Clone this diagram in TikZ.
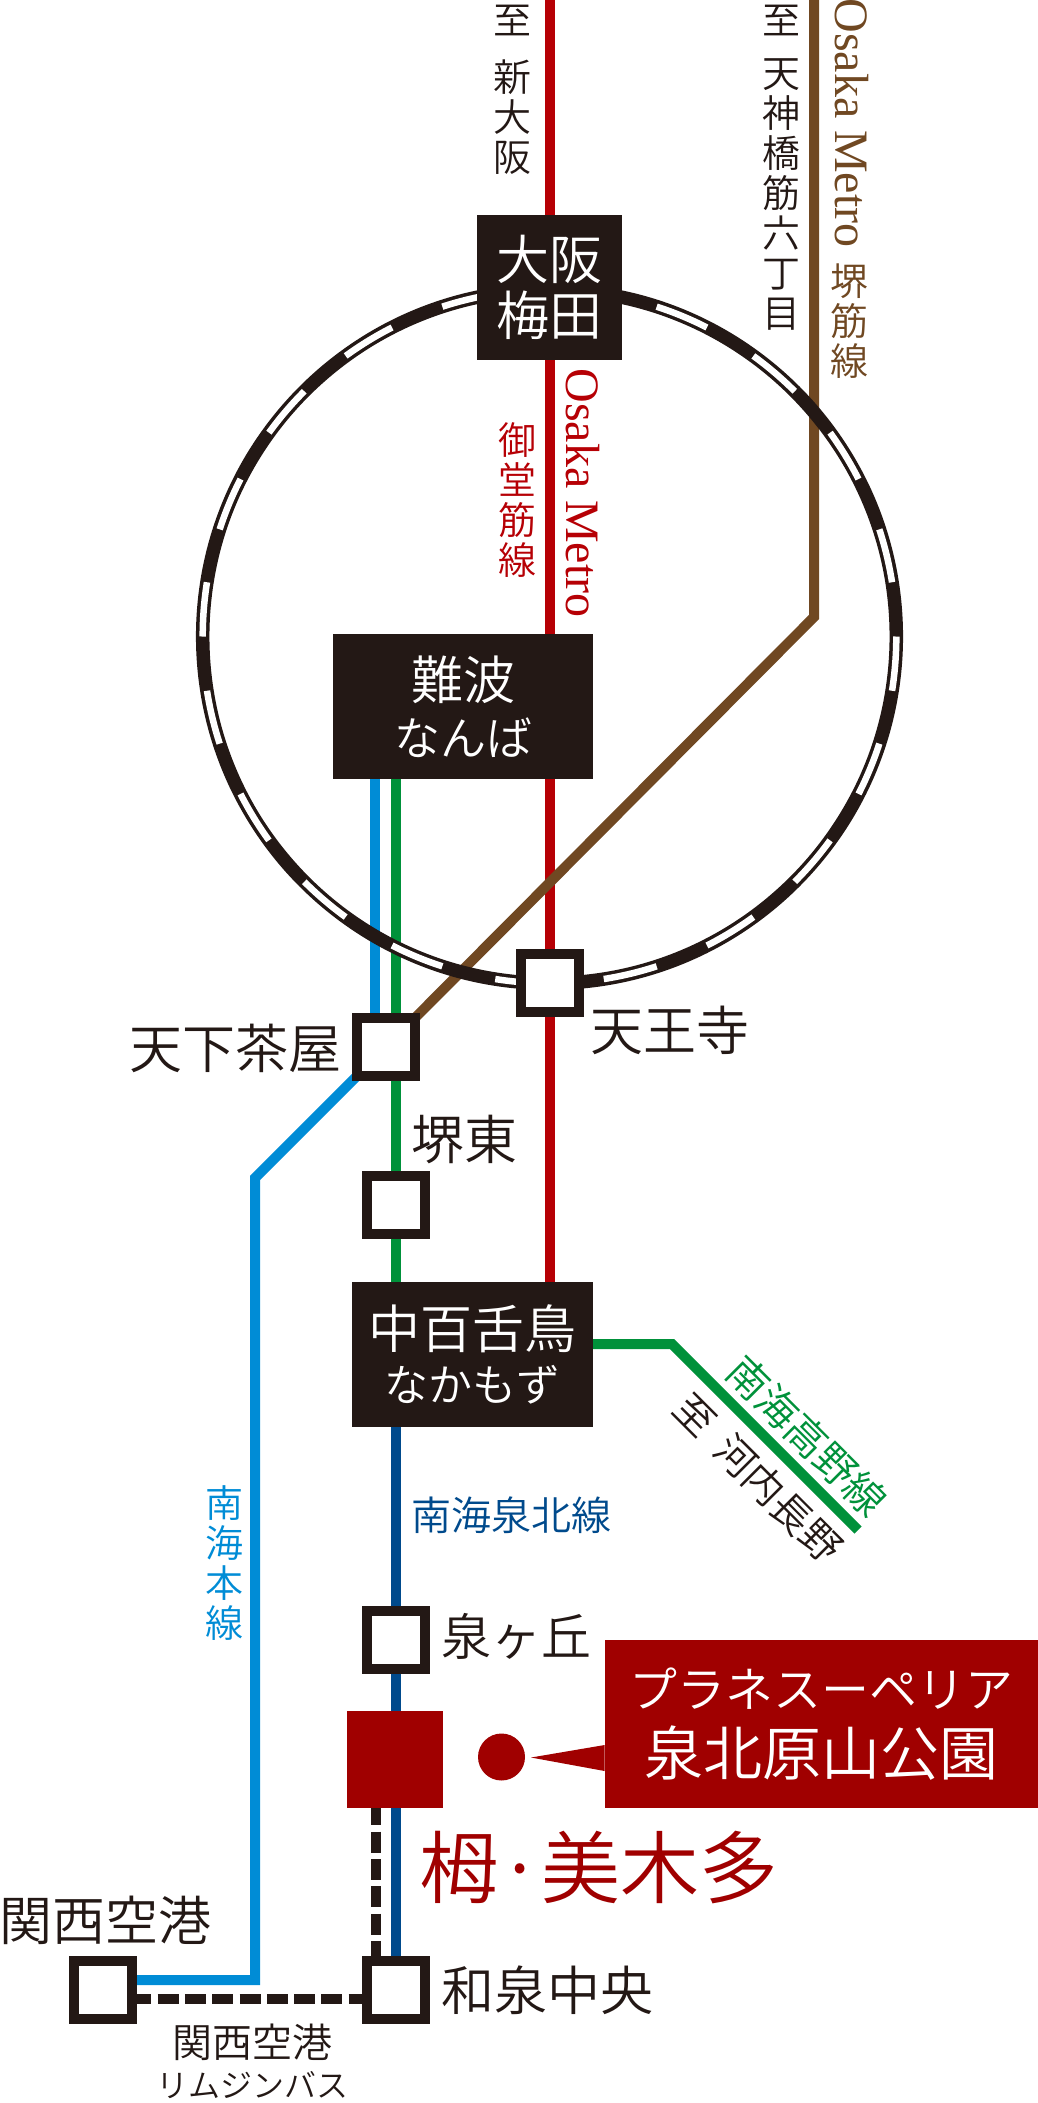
\documentclass[tikz,border=0pt]{standalone}
\usepackage{fontspec}
\setmainfont{Noto Sans CJK JP}[UprightFont=* DemiLight]
\newfontfamily\latinfont{Liberation Serif}
\definecolor{inkblack}{HTML}{231815}
\definecolor{metrored}{HTML}{B60005}
\definecolor{metrobrown}{HTML}{704822}
\definecolor{nankaiblue}{HTML}{008CD6}
\definecolor{nankaigreen}{HTML}{00913A}
\definecolor{senbokunavy}{HTML}{004A8C}
\definecolor{togared}{HTML}{A00000}
\newcommand{\fsz}[1]{\fontsize{#1}{#1}\selectfont}
\pgfdeclarelayer{lines}
\pgfdeclarelayer{rail}
\pgfsetlayers{lines,rail,main}
\tikzset{
    routeline/.style={line width=5pt},
    busline/.style={line width=5pt, color=inkblack, dash pattern=on 10.5pt off 3.15pt},
    hubbox/.style={fill=inkblack, text=white, inner sep=0pt, align=center, minimum width=#1},
    stationsq/.style={draw=inkblack, fill=white, line width=5pt, minimum size=29pt, inner sep=0pt},
    stationlabel/.style={text=inkblack, inner sep=0pt, font=\fsz{26.5}},
    tatelabel/.style={inner sep=0pt, align=center, font=\fontsize{19}{20}\selectfont},
}
\begin{document}
\begin{tikzpicture}[x=0.5pt,y=-0.5pt]
    \useasboundingbox (0,0) rectangle (1038,2103);

    \def \ringradius {173.4pt}
    \def \n {19}

    \coordinate (ringc) at (549.5,636.5);

    % hubs
    \node[hubbox=72.5pt, minimum height=72.5pt] (umeda) at (549.5,287.5) {\fsz{26.5}大阪\\[3pt]\fsz{26.5}梅田};
    \node[hubbox=130pt, minimum height=72.5pt] (namba) at (463,706.5) {\fsz{26}難波\\[6pt]\fsz{23}なんば};
    \node[hubbox=120.5pt, minimum height=72.5pt] (nakamozu) at (472.5,1354.5) {\fsz{26}中百舌鳥\\[5pt]\fsz{22}なかもず};

    % stations
    \node[stationsq] (tengachaya) at (386,1047) {};
    \node[stationsq] (tennoji) at (549.5,983) {};
    \node[stationsq] (sakaihigashi) at (395.5,1205) {};
    \node[stationsq] (izumigaoka) at (395.5,1640) {};
    \node[stationsq] (izumichuo) at (395.5,1990) {};
    \node[stationsq] (kansai) at (103,1990) {};
    \node[fill=togared, minimum width=48pt, minimum height=48.5pt, inner sep=0pt] (toga) at (395,1759.5) {};
    \node[circle, fill=togared, minimum size=23.5pt, inner sep=0pt] (togadot) at (501.5,1757) {};
    \node[fill=togared, text=white, minimum width=216.5pt, minimum height=84pt, inner sep=0pt, align=center] (planesuperior) at (821.5,1724) {\fsz{24}プラネスーペリア\\[7pt]\fsz{29.5}泉北原山公園};

    \coordinate (redtop) at (549.5,0);
    \coordinate (browntop) at (814,0);
    \coordinate (brownbend) at (814,617);
    \coordinate (bluetop) at (375,700);
    \coordinate (bluebend) at (255,1178);
    \coordinate (bluecorner) at (255,1980);
    \coordinate (kouyabend) at (672,1344);
    \coordinate (kouyaend) at (858,1530);
    \coordinate (busleft) at (130.3,1999);
    \coordinate (busright) at (395.5,1999);
    \coordinate (bustop) at (376,1804.4);
    \coordinate (busbottom) at (376,1990);
    \coordinate (pointertip) at (531,1757.5);

    \begin{pgfonlayer}{lines}
        \draw[routeline, metrored] (redtop) -- (umeda.center) -- (tennoji.center) -- (tennoji |- nakamozu);
        \draw[routeline, metrobrown] (browntop) -- (brownbend) -- (tengachaya.center);
        \draw[routeline, nankaiblue] (bluetop) -- (bluetop |- tengachaya);
        \draw[routeline, nankaiblue] (tengachaya.center) -- (bluebend) -- (bluecorner) -- (bluecorner -| kansai);
        \draw[routeline, nankaigreen] (sakaihigashi |- namba) -- (sakaihigashi.center) -- (sakaihigashi |- nakamozu);
        \draw[routeline, nankaigreen] (kouyabend -| nakamozu) -- (kouyabend) -- (kouyaend);
        \draw[routeline, senbokunavy] (izumigaoka |- nakamozu) -- (izumigaoka.center) -- (izumichuo.center);
        \draw[busline] (busleft) -- (busright);
        \draw[busline] (bustop) -- (busbottom);
    \end{pgfonlayer}

    \begin{pgfonlayer}{rail}
        \draw[color=inkblack, line width=6.75pt] (ringc) circle [radius=\ringradius];
        \foreach \s in {0,...,\n}{
            \pgfmathsetmacro{\startangle}{9 + 18*\s}
            \draw[color=white, line width=3.25pt] (ringc) ++(\startangle:\ringradius) arc [start angle=\startangle, delta angle=9, radius=\ringradius];
        };
    \end{pgfonlayer}

    \fill[togared] (pointertip) -- (planesuperior.west |- 0,1745) -- (planesuperior.west |- 0,1771) -- cycle;

    % line names
    \node[tatelabel, text=inkblack] (toshinosaka) at (512,90) {至\\[8.5pt]新\\大\\阪};
    \node[tatelabel, text=inkblack] (totenjin) at (781,168) {至\\[6.5pt]天\\神\\橋\\筋\\六\\丁\\目};
    \node[tatelabel, text=metrobrown] (sakaisuji) at (849,321) {堺\\筋\\線};
    \node[tatelabel, text=metrored] (midosuji) at (517,500) {御\\堂\\筋\\線};
    \node[tatelabel, text=nankaiblue] (nankaimain) at (224,1563) {南\\海\\本\\線};
    \node[rotate=-90, text=metrobrown, inner sep=0pt, font=\latinfont\fsz{24}] (metrobrownname) at (852,123) {Osaka Metro};
    \node[rotate=-90, text=metrored, inner sep=0pt, font=\latinfont\fsz{24}] (metroredname) at (583,493) {Osaka Metro};
    \node[text=senbokunavy, inner sep=0pt, font=\fsz{20}] (senboku) at (511,1515) {南海泉北線};
    \node[rotate=-45, text=nankaigreen, inner sep=0pt, font=\fsz{20.5}] (kouya) at (807,1436) {南海高野線};
    \node[rotate=-45, text=inkblack, inner sep=0pt, font=\fsz{20}] (tokawachi) at (758,1478) {至\hspace{0.45em}河内長野};

    % station names
    \node[stationlabel, anchor=east] (tengachayaname) at (342,1048) {天下茶屋};
    \node[stationlabel, anchor=west] (tennojiname) at (590,1030) {天王寺};
    \node[stationlabel, anchor=west] (sakaihigashiname) at (411,1140) {堺東};
    \node[stationlabel, anchor=west, font=\fsz{25}] (izumigaokaname) at (441,1636) {泉ヶ丘};
    \node[stationlabel, anchor=west] (izumichuoname) at (441,1990) {和泉中央};
    \node[stationlabel] (kansainame) at (105,1920) {関西空港};
    \node[tatelabel, text=inkblack] (limousine) at (252,2061) {\fontsize{20}{20}\selectfont 関西空港\\[0pt]\fontsize{16}{16}\selectfont リムジンバス};
    \node[text=togared, inner sep=0pt, font=\fsz{39.5}] (togamikita) at (599,1867) {栂·美木多};
\end{tikzpicture}
\end{document}
